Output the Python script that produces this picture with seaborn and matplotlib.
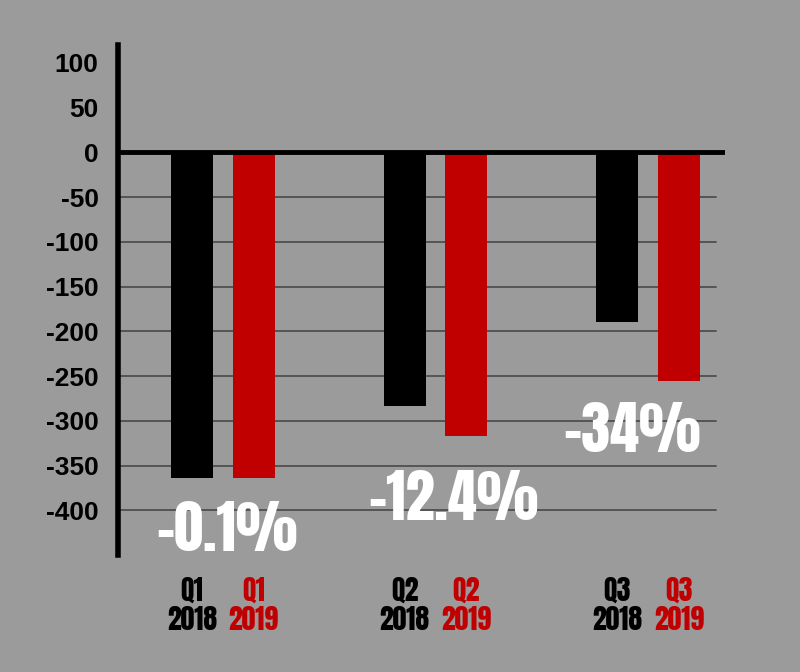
import pandas as pd
import matplotlib.pyplot as plt
import seaborn as sns

quarters = ["Q1", "Q2", "Q3"]
years = ["2018", "2019"]
values_2018 = [-364, -283, -189]
values_2019 = [-364.4, -317, -255]
pct_labels = ["-0.1%", "-12.4%", "-34%"]
y_ticks = [100, 50, 0, -50, -100, -150, -200, -250, -300, -350, -400]

bg = "#9b9b9b"
red = "#c00000"
condensed = ["Anton", "Oswald", "Liberation Sans", "DejaVu Sans"]

df = pd.DataFrame({
    "quarter": quarters * 2,
    "year": [years[0]] * 3 + [years[1]] * 3,
    "value": values_2018 + values_2019,
})

sns.set_theme(style="white")
plt.rcParams["font.family"] = ["Liberation Sans", "DejaVu Sans"]

fig = plt.figure(figsize=(8, 6.72), dpi=100, facecolor=bg)
ax = fig.add_axes([0.1475, 0.174, 0.7585, 0.759])
ax.set_facecolor(bg)

sns.barplot(
    data=df, x="quarter", y="value", hue="year",
    palette={"2018": "black", "2019": red},
    width=0.58, gap=0.32, saturation=1, legend=False, ax=ax, zorder=3,
    linewidth=0, edgecolor="none",
)

# grid + zero line
for t in y_ticks:
    if t < 0:
        ax.axhline(t, color="#555555", lw=1.4, zorder=1, xmax=0.985)
ax.axhline(0, color="black", lw=3.5, zorder=4)

ax.set_ylim(-450, 120)
ax.set_xlim(-0.493, 2.36)
ax.set_yticks(y_ticks)
ax.set_yticklabels([str(t) for t in y_ticks], fontsize=19, fontweight="bold", color="black")
ax.tick_params(axis="y", length=0, pad=14)
ax.set_xticks([])
ax.set_xlabel("")
ax.set_ylabel("")

for s in ["top", "right", "bottom"]:
    ax.spines[s].set_visible(False)
ax.spines["left"].set_color("black")
ax.spines["left"].set_linewidth(4)

# category labels under bars
for i, q in enumerate(quarters):
    for j, (yr, col) in enumerate(zip(years, ["black", red])):
        xpos = i + (j - 0.5) * 0.29
        ax.text(xpos, -489, q, ha="center", va="center", fontsize=20,
                color=col, family=condensed, clip_on=False)
        ax.text(xpos, -522, yr, ha="center", va="center", fontsize=20,
                color=col, family=condensed, clip_on=False)

# percent change labels
x_shift = [0.02, 0.085, -0.075]
gaps = [25, 38, 24]
for i, lab in enumerate(pct_labels):
    low = min(values_2018[i], values_2019[i])
    ax.text(i + x_shift[i], low - gaps[i], lab, ha="center", va="top", fontsize=42,
            color="white", family=condensed, zorder=5)

fig.savefig("out.png", dpi=100, facecolor=bg)
